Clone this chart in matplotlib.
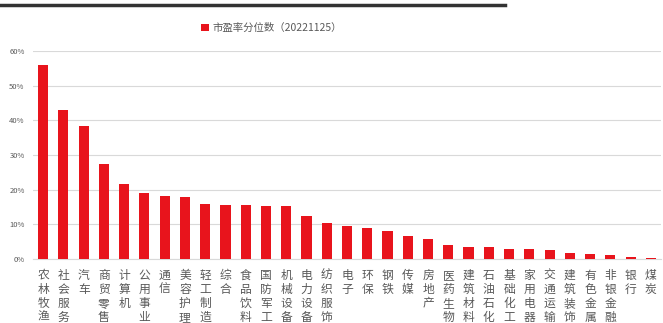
import matplotlib
matplotlib.use("Agg")
import matplotlib.pyplot as plt
from matplotlib.ticker import PercentFormatter

plt.rcParams['font.family'] = ['Noto Sans CJK SC', 'DejaVu Sans']

# 行业与市盈率分位数 (20221125)
industries = ["农林牧渔", "社会服务", "汽车", "商贸零售", "计算机", "公用事业", "通信",
              "美容护理", "轻工制造", "综合", "食品饮料", "国防军工", "机械设备", "电力设备",
              "纺织服饰", "电子", "环保", "钢铁", "传媒", "房地产", "医药生物", "建筑材料",
              "石油石化", "基础化工", "家用电器", "交通运输", "建筑装饰", "有色金属",
              "非银金融", "银行", "煤炭"]
pe_pct = [56.1, 43.0, 38.3, 27.4, 21.5, 18.9, 18.2, 17.9, 15.8, 15.6, 15.6, 15.3, 15.3,
          12.3, 10.4, 9.4, 8.9, 8.0, 6.7, 5.7, 4.1, 3.4, 3.4, 2.8, 2.8, 2.7, 1.6, 1.3,
          1.2, 0.5, 0.2]
y_ticks = [0, 10, 20, 30, 40, 50, 60]
legend_label = "市盈率分位数（20221125）"

RED = "#E8141C"
GREY = "#595959"

fig = plt.figure(figsize=(6.63, 3.23), dpi=100)
ax = fig.add_axes([33 / 663, 1 - 259 / 323, (661 - 33) / 663, (259 - 51) / 323])

x = range(len(industries))
ax.bar(x, pe_pct, width=0.5, color=RED, label=legend_label, zorder=3)

ax.set_ylim(0, 60)
ax.set_xlim(-0.5, len(industries) - 0.5)
ax.set_yticks(y_ticks)
ax.yaxis.set_major_formatter(PercentFormatter(decimals=0))
ax.grid(axis="y", color="#d9d9d9", linewidth=0.8, zorder=0)
for s in ["top", "right", "left"]:
    ax.spines[s].set_visible(False)
ax.spines["bottom"].set_color("#d9d9d9")
ax.tick_params(axis="y", length=0, labelsize=5.5, labelcolor=GREY, pad=6)
ax.tick_params(axis="x", length=0, pad=7)
ax.set_xticks(list(x))
ax.set_xticklabels(["\n".join(n) for n in industries], fontsize=8.5, color=GREY,
                   linespacing=1.1, va="top")

ax.legend(loc="center", bbox_to_anchor=(0.38, 1.11), frameon=False, fontsize=7.5,
          labelcolor=GREY, handlelength=0.75, handleheight=0.75, handletextpad=0.3)

# 顶部粗线
fig.add_artist(plt.Line2D([0, 505 / 663], [1 - 5 / 323, 1 - 5 / 323], color="#333333",
                          linewidth=2.5))

plt.savefig("out.png", dpi=100)
